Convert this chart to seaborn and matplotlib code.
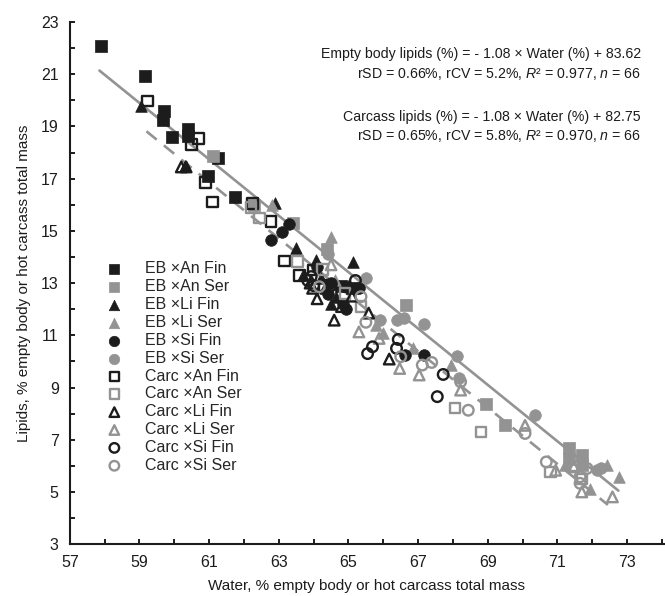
# Lipids vs water regression chart (empty body and carcass)
import numpy as np
import pandas as pd
import seaborn as sns
import matplotlib.pyplot as plt
from matplotlib.ticker import MultipleLocator

sns.set_theme(style="ticks")
plt.rcParams['font.family'] = ['Liberation Sans', 'DejaVu Sans']
plt.rcParams['mathtext.fontset'] = 'custom'
plt.rcParams['mathtext.rm'] = 'Liberation Sans'
plt.rcParams['mathtext.it'] = 'Liberation Sans:italic'

# 1. DATA
eb_an_fin_x = [57.9, 59.15, 59.7, 59.67, 59.93, 60.4, 60.4, 61.25, 60.96, 61.74, 64.8, 65.1]
eb_an_fin_y = [22.1, 20.95, 19.6, 19.25, 18.6, 18.9, 18.63, 17.8, 17.1, 16.3, 12.9, 12.8]
eb_an_ser_x = [61.1, 62.3, 63.4, 64.37, 66.65, 68.94, 69.5, 71.33, 71.7, 71.33, 71.7]
eb_an_ser_y = [17.85, 16.0, 15.3, 14.3, 12.15, 8.35, 7.55, 6.67, 6.41, 6.28, 6.03]
eb_li_fin_x = [59.05, 60.3, 62.9, 63.5, 64.07, 65.14, 64.64, 64.2, 64.5, 65.0, 63.7]
eb_li_fin_y = [19.78, 17.5, 16.05, 14.33, 13.9, 13.8, 12.48, 13.2, 12.2, 12.9, 13.3]
eb_li_ser_x = [62.8, 64.5, 65.98, 66.84, 67.94, 71.23, 72.43, 72.76, 71.94, 64.6, 65.8]
eb_li_ser_y = [16.0, 14.75, 11.1, 10.5, 9.86, 6.03, 6.03, 5.58, 5.13, 13.1, 11.4]
eb_si_fin_x = [63.28, 63.1, 62.78, 64.83, 64.93, 66.63, 67.17, 64.1, 64.5, 65.3, 64.4]
eb_si_fin_y = [15.25, 14.97, 14.67, 12.2, 12.0, 10.24, 10.24, 13.6, 13.0, 12.8, 12.6]
eb_si_ser_x = [65.5, 66.4, 65.9, 67.17, 68.13, 68.17, 70.37, 72.14, 72.24, 66.6, 64.4]
eb_si_ser_y = [13.2, 11.6, 11.58, 11.45, 10.2, 9.35, 7.94, 5.83, 5.9, 11.65, 14.1]

carc_an_fin_x = [59.23, 60.69, 60.5, 60.9, 61.1, 62.25, 62.78, 63.16, 64.0, 64.3, 63.6]
carc_an_fin_y = [19.97, 18.55, 18.3, 16.85, 16.1, 16.05, 15.35, 13.84, 13.5, 12.9, 13.3]
carc_an_ser_x = [62.44, 63.54, 64.26, 65.36, 68.06, 68.81, 70.8, 71.5, 62.2, 64.9, 71.7]
carc_an_ser_y = [15.5, 13.82, 13.52, 12.1, 8.22, 7.3, 5.77, 6.0, 15.9, 12.6, 5.5]
carc_li_fin_x = [60.2, 60.34, 63.97, 64.35, 64.59, 65.58, 66.17, 63.9, 64.8, 65.1, 64.1]
carc_li_fin_y = [17.45, 17.45, 12.8, 12.8, 11.58, 11.85, 10.09, 13.0, 12.1, 12.5, 12.4]
carc_li_ser_x = [65.3, 65.88, 66.47, 67.03, 68.22, 70.07, 70.95, 71.47, 71.7, 72.58, 64.5]
carc_li_ser_y = [11.13, 10.88, 9.73, 9.48, 8.9, 7.55, 5.83, 5.96, 5.0, 4.81, 13.7]
carc_si_fin_x = [63.83, 63.93, 65.55, 65.69, 66.43, 66.38, 67.72, 67.55, 64.5, 65.2, 64.0]
carc_si_fin_y = [13.1, 13.25, 10.3, 10.56, 10.84, 10.5, 9.5, 8.65, 12.9, 13.1, 12.9]
carc_si_ser_x = [64.16, 65.36, 65.5, 66.5, 67.12, 67.39, 68.22, 68.44, 70.07, 70.68, 71.85, 71.65, 71.65]
carc_si_ser_y = [12.86, 12.48, 11.5, 10.18, 9.86, 9.96, 9.22, 8.13, 7.24, 6.15, 5.9, 5.58, 5.33]

# regression equations from the figure text
eb_slope, eb_icpt = -1.08, 83.62
carc_slope, carc_icpt = -1.08, 82.75
eb_range = [57.85, 72.75]
carc_range = [59.2, 72.45]

x_ticks = list(range(57, 74, 2))
y_ticks = list(range(3, 24, 2))

DARK = '#1c1c1c'
GREY = '#939393'

# label, x, y, marker, colour, filled
groups = [
    ('EB ×An Fin', eb_an_fin_x, eb_an_fin_y, 's', DARK, True),
    ('EB ×An Ser', eb_an_ser_x, eb_an_ser_y, 's', GREY, True),
    ('EB ×Li Fin', eb_li_fin_x, eb_li_fin_y, '^', DARK, True),
    ('EB ×Li Ser', eb_li_ser_x, eb_li_ser_y, '^', GREY, True),
    ('EB ×Si Fin', eb_si_fin_x, eb_si_fin_y, 'o', DARK, True),
    ('EB ×Si Ser', eb_si_ser_x, eb_si_ser_y, 'o', GREY, True),
    ('Carc ×An Fin', carc_an_fin_x, carc_an_fin_y, 's', DARK, False),
    ('Carc ×An Ser', carc_an_ser_x, carc_an_ser_y, 's', GREY, False),
    ('Carc ×Li Fin', carc_li_fin_x, carc_li_fin_y, '^', DARK, False),
    ('Carc ×Li Ser', carc_li_ser_x, carc_li_ser_y, '^', GREY, False),
    ('Carc ×Si Fin', carc_si_fin_x, carc_si_fin_y, 'o', DARK, False),
    ('Carc ×Si Ser', carc_si_ser_x, carc_si_ser_y, 'o', GREY, False),
]

# 2. PLOT
fig = plt.figure(figsize=(6.65, 5.96), dpi=100)
ax = fig.add_axes([0.105, 0.087, 0.893, 0.876])

# fitted lines
lx = np.array(eb_range)
sns.lineplot(x=lx, y=eb_slope * lx + eb_icpt, ax=ax, color=GREY, linewidth=1.9, zorder=3)
cx = np.array(carc_range)
sns.lineplot(x=cx, y=carc_slope * cx + carc_icpt, ax=ax, color=GREY, linewidth=1.9,
             zorder=3).lines[-1].set_dashes([5, 3.5])

for label, xs, ys, m, c, filled in groups:
    if filled:
        sns.scatterplot(x=xs, y=ys, ax=ax, marker=m, s=70, color=c, edgecolor=c,
                        linewidth=0.5, label=label, zorder=4)
    else:
        sns.scatterplot(x=xs, y=ys, ax=ax, marker=m, s=58, facecolor='none', edgecolor=c,
                        linewidth=1.7, label=label, zorder=4)

# 3. AXES
ax.set_xlim(57, 74.05)
ax.set_ylim(3, 23)
ax.set_xticks(x_ticks)
ax.set_yticks(y_ticks)
ax.xaxis.set_minor_locator(MultipleLocator(1))
ax.yaxis.set_minor_locator(MultipleLocator(1))
ax.tick_params(which='both', direction='in', length=3.5, width=1.4, labelsize=11.5,
               colors='#1c1c1c', pad=8)
for s in ['top', 'right']:
    ax.spines[s].set_visible(False)
for s in ['left', 'bottom']:
    ax.spines[s].set_linewidth(1.5)
    ax.spines[s].set_color('#1c1c1c')
ax.set_xlabel('Water, % empty body or hot carcass total mass', fontsize=11, labelpad=6,
              color='#1c1c1c')
ax.set_ylabel('Lipids, % empty body or hot carcass total mass', fontsize=11, labelpad=7,
              color='#1c1c1c')

# equations
txt = dict(transform=ax.transData, ha='right', fontsize=10.2, color='#1c1c1c')
ax.text(73.4, 21.62, 'Empty body lipids (%) = - 1.08 × Water (%) + 83.62', **txt)
ax.text(73.4, 20.87, r'rSD = 0.66%, rCV = 5.2%, $\mathit{R}$² = 0.977, $\mathit{n}$ = 66', **txt)
ax.text(73.4, 19.22, 'Carcass lipids (%) = - 1.08 × Water (%) + 82.75', **txt)
ax.text(73.4, 18.47, r'rSD = 0.65%, rCV = 5.8%, $\mathit{R}$² = 0.970, $\mathit{n}$ = 66', **txt)

ax.legend(loc='upper left', bbox_to_anchor=(0.04, 0.557), frameon=False, fontsize=11.5,
          labelspacing=0.18, handletextpad=1.15, borderpad=0, markerscale=0.9,
          handlelength=1.6)

plt.savefig('out.png', dpi=100)
